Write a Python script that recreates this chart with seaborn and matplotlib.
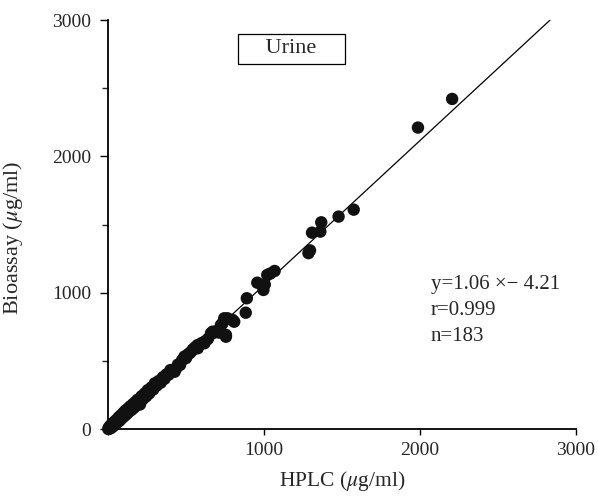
import numpy as np
import pandas as pd
import seaborn as sns
import matplotlib.pyplot as plt

# HPLC vs bioassay values (ug/ml)
hplc = [2, 5, 10, 15, 20, 25, 30, 38, 45, 52, 60, 68, 75, 82, 90, 98, 105, 112, 120,
        128, 135, 142, 150, 158, 165, 172, 180, 190, 198, 205, 215, 225, 235, 245,
        255, 265, 278, 290, 300, 312, 325, 338, 352, 362, 374, 388, 400, 412, 427,
        437, 448, 462, 475, 490, 500, 510, 522, 533, 545, 560, 575, 575, 586, 600,
        618, 618, 640, 660, 671, 671, 700, 713, 724, 734, 745, 756, 756, 766, 798,
        809, 883, 890, 957, 996, 1005, 1021, 1040, 1068, 1285, 1295, 1308, 1361,
        1367, 1478, 1575, 1987, 2206]
bioassay = [0, 10, 2, 25, 8, 35, 18, 50, 30, 65, 48, 85, 62, 100, 80, 118, 95, 135, 110,
            150, 128, 165, 140, 180, 155, 195, 170, 215, 190, 180, 240, 220, 260, 240,
            285, 262, 305, 290, 335, 318, 352, 340, 380, 368, 400, 398, 432, 420, 420,
            445, 472, 470, 505, 531, 520, 545, 555, 567, 585, 600, 592, 616, 616, 630,
            629, 640, 660, 702, 714, 702, 720, 707, 763, 775, 812, 677, 690, 812, 800,
            787, 853, 959, 1073, 1020, 1060, 1130, 1140, 1159, 1290, 1310, 1440, 1448,
            1516, 1558, 1609, 2211, 2421]
df = pd.DataFrame({"hplc": hplc, "bioassay": bioassay})

slope, intercept = 1.06, -4.21
eq_lines = ["y=1.06 \u00d7\u2212 4.21", "r=0.999", "n=183"]

sns.set_style("ticks")
plt.rcParams["font.family"] = ["Liberation Serif", "DejaVu Serif"]
plt.rcParams["mathtext.fontset"] = "stix"

fig = plt.figure(figsize=(5.98, 4.98), dpi=100)
ax = fig.add_axes([108 / 598, 1 - 429 / 498, 468 / 598, 409 / 498])

sns.scatterplot(data=df, x="hplc", y="bioassay", ax=ax, color="#111111",
                s=80, edgecolor="none", clip_on=False, legend=False, zorder=3)

# fitted line y = 1.06x - 4.21
xs = np.linspace(0, (3000 - intercept) / slope, 50)
ax.plot(xs, slope * xs + intercept, color="black", lw=0.9, zorder=2)

ax.set_xlim(0, 3000)
ax.set_ylim(0, 3000)
ax.set_xticks([0, 1000, 2000, 3000])
ax.set_xticklabels(["", "1000", "2000", "3000"])
ax.set_yticks([0, 1000, 2000, 3000])
ax.set_yticks([500, 1500, 2500], minor=True)
ax.tick_params(axis="both", labelsize=14, width=1, color="black", direction="out")
ax.tick_params(axis="x", length=4, pad=5)
ax.tick_params(axis="y", length=6, pad=6)
ax.tick_params(axis="y", which="minor", length=4, width=1)
sns.despine(ax=ax)
for sp in ["left", "bottom"]:
    ax.spines[sp].set_linewidth(1.3)
    ax.spines[sp].set_color("black")

ax.set_xlabel("HPLC ($\\mu$g/ml)", fontsize=15.5)
ax.set_ylabel("Bioassay ($\\mu$g/ml)", fontsize=16)
ax.xaxis.set_label_coords(0.5, -0.098)
ax.yaxis.set_label_coords(-0.177, 0.468)

ax.text(1175, 2788, "    Urine    ", fontsize=16, ha="center", va="center",
        bbox=dict(boxstyle="square,pad=0.25", fc="white", ec="black", lw=0.9))
for i, line in enumerate(eq_lines):
    ax.text(2070, 1027 - i * 192, line, fontsize=15, ha="left", va="baseline")

fig.savefig("out.png", dpi=100)
